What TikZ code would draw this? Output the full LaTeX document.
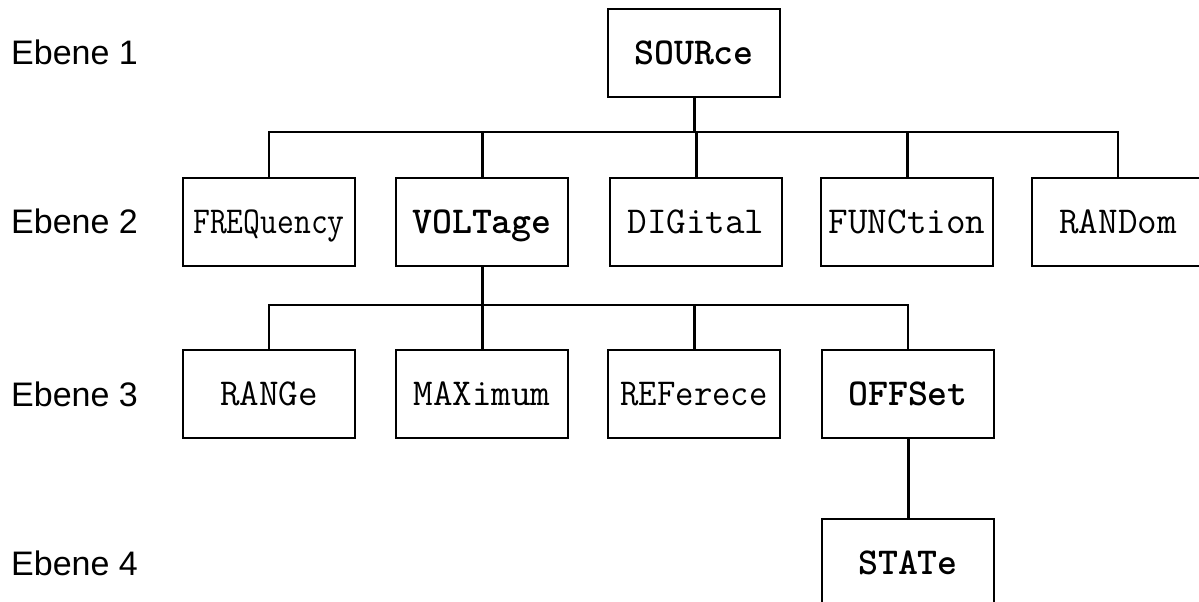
\documentclass[tikz,border=0pt]{standalone}
\usepackage{fontspec}
\setmainfont{Liberation Sans}
\usepackage{graphicx}
\begin{document}
\begin{tikzpicture}[x=1pt,y=-1pt,
  box/.style={draw, line width=2pt, minimum width=172pt, minimum height=88pt, inner sep=0pt,
    font=\fontsize{38}{44}\selectfont\ttfamily, text height=23pt, text depth=0pt},
  bbox/.style={box, font=\fontsize{38}{44}\selectfont\ttfamily\bfseries},
  lvl/.style={anchor=base west, inner sep=0pt, font=\fontsize{34}{40}\selectfont},
  conn/.style={line width=2pt},
  tconn/.style={line width=3pt}]
\useasboundingbox (0,0) rectangle (1199,602);
\clip (0,0) rectangle (1199,602);
\coordinate (bus1) at (0,132);
\coordinate (bus2) at (0,305);
% level labels
\node[lvl] (e1) at (11,65) {Ebene 1};
\node[lvl] (e2) at (11,233) {Ebene 2};
\node[lvl] (e3) at (11,406) {Ebene 3};
\node[lvl] (e4) at (11,575) {Ebene 4};
% boxes
\node[bbox] (src) at (694,53) {SOURce};
\node[box] (freq) at (269,222) {\scalebox{0.86}[1]{FREQuency}};
\node[bbox] (volt) at (482,222) {VOLTage};
\node[box] (dig) at (696,222) {DIGital};
\node[box] (func) at (907,222) {FUNCtion};
\node[box] (rand) at (1118,222) {RANDom};
\node[box] (range) at (269,393.5) {RANGe};
\node[box] (max) at (482,393.5) {MAXimum};
\node[box] (ref) at (694,393.5) {\scalebox{0.94}[1]{REFerece}};
\node[bbox] (off) at (908,393.5) {OFFSet};
\node[bbox] (state) at (908,563) {STATe};
% connectors
\draw[tconn] (src.south) -- (src.south |- bus1);
\draw[conn] (freq.north) -- (freq.north |- bus1) -- (rand.north |- bus1) -- (rand.north);
\draw[tconn] (volt.north) -- (volt.north |- bus1);
\draw[tconn] (dig.north) -- (dig.north |- bus1);
\draw[tconn] (func.north) -- (func.north |- bus1);
\draw[tconn] (volt.south) -- (volt.south |- bus2);
\draw[conn] (range.north) -- (range.north |- bus2) -- (off.north |- bus2) -- (off.north);
\draw[tconn] (max.north) -- (max.north |- bus2);
\draw[tconn] (ref.north) -- (ref.north |- bus2);
\draw[tconn] (off.south) -- (state.north);
\end{tikzpicture}
\end{document}
